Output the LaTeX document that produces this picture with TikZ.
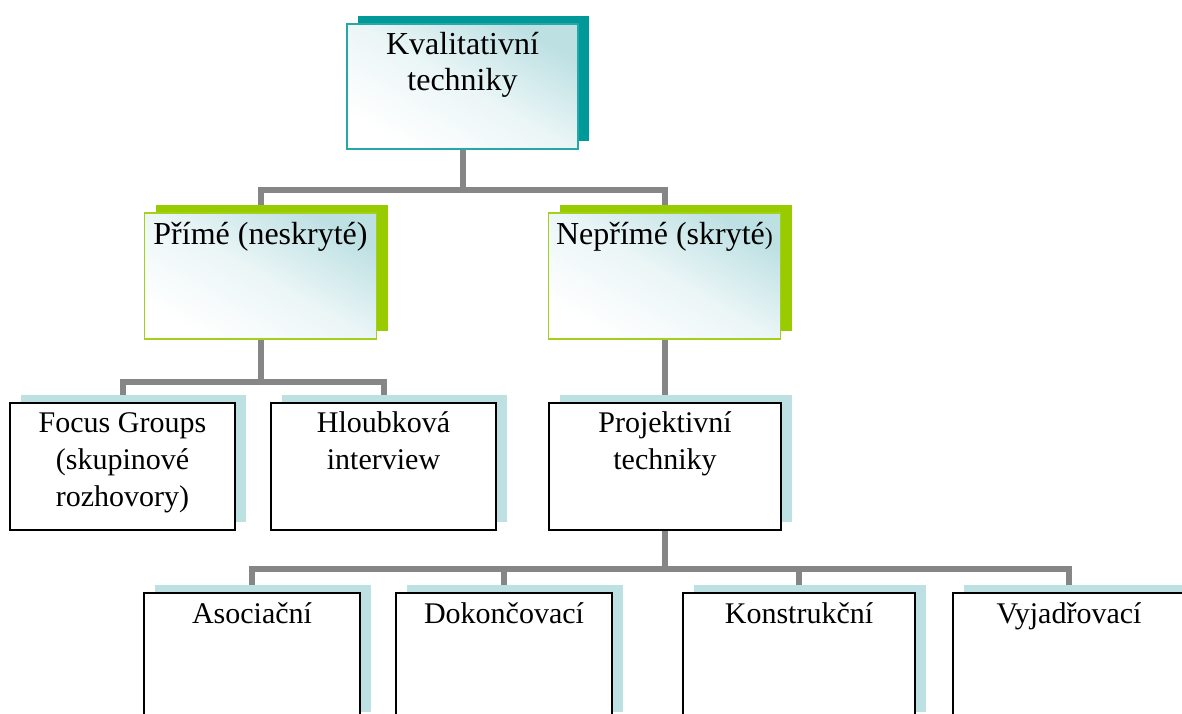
\documentclass[tikz,border=0pt]{standalone}
\usepackage{fontspec}
\setmainfont{Liberation Serif}
\usetikzlibrary{shadows,backgrounds}

\definecolor{tyrkys}{RGB}{0,153,153}
\definecolor{zelena}{RGB}{153,204,0}
\definecolor{svetla}{RGB}{189,224,227}
\definecolor{sedivka}{RGB}{134,134,134}

\begin{document}
\begin{tikzpicture}[x=0.5pt,y=-0.5pt,
	kasten/.style={rectangle,inner sep=0pt,line width=0.8pt,
		general shadow={fill=#1,shadow xshift=5.5pt,shadow yshift=4pt}},
	hlavni/.style={kasten=tyrkys,draw=tyrkys!85!white,
		minimum width=115.5pt,minimum height=62.5pt,
		top color=svetla,bottom color=white,middle color=svetla!30!white,
		shading angle=-30},
	vetev/.style={kasten=zelena,draw=zelena!90!white,
		minimum width=116pt,minimum height=63pt,
		top color=svetla,bottom color=white,middle color=svetla!30!white,
		shading angle=-30},
	list/.style={kasten=svetla,draw=black,fill=white,minimum height=63.5pt},
	popis/.style={anchor=base,align=center,inner sep=0pt,
		font=\fontsize{16}{18}\selectfont},
	popism/.style={popis,font=\fontsize{15}{18.5}\selectfont},
	spoj/.style={draw=sedivka,line width=3pt}]

	\useasboundingbox (0,0) rectangle (1182,713);
	\clip (0,0) rectangle (1182,713);

	% uroven 1 a 2 (base = posledni radek)
	\node[hlavni,label={[popis,yshift=-33.5pt]north:Kvalitativní\\techniky}]
		(kval) at (462.5,86.5) {};
	\node[vetev,label={[popis,yshift=-16pt]north:Přímé (neskryté)}]
		(prime) at (260.5,276) {};
	\node[vetev,label={[popis,yshift=-16pt]north:Nepřímé (skryté{\fontsize{12}{18}\selectfont )}}]
		(neprime) at (664.5,276) {};

	% uroven 3
	\node[list,minimum width=112.5pt,
		label={[popism,yshift=-52pt]north:Focus Groups\\(skupinové\\rozhovory)}]
		(focus) at (122.5,466.5) {};
	\node[list,minimum width=112.5pt,
		label={[popism,yshift=-33.5pt]north:Hloubková\\interview}]
		(hloub) at (383.5,466.5) {};
	\node[list,minimum width=116pt,
		label={[popism,yshift=-33.5pt]north:Projektivní\\techniky}]
		(proj) at (665,466.5) {};

	% uroven 4
	\node[list,minimum width=108pt,label={[popism,yshift=-15.5pt]north:Asociační}]
		(asoc) at (252,656.5) {};
	\node[list,minimum width=108pt,label={[popism,yshift=-15.5pt]north:Dokončovací}]
		(dokon) at (504,656.5) {};
	\node[list,minimum width=116pt,label={[popism,yshift=-15.5pt]north:Konstrukční}]
		(konstr) at (799,656.5) {};
	\node[list,minimum width=116pt,label={[popism,yshift=-15.5pt]north:Vyjadřovací}]
		(vyjadr) at (1069,656.5) {};

	\begin{scope}[on background layer]
		\draw[spoj] (kval.south) -- ++(0,40) -| (prime.north);
		\draw[spoj] (kval.south) -- ++(0,40) -| (neprime.north);
		\draw[spoj] (prime.south) -- ++(0,42) -| (focus.north);
		\draw[spoj] (prime.south) -- ++(0,42) -| (hloub.north);
		\draw[spoj] (neprime.south) -- (neprime.south |- proj.north);
		\foreach \k in {asoc,dokon,konstr,vyjadr}
			\draw[spoj] (proj.south) -- ++(0,38) -| (\k.north);
	\end{scope}
\end{tikzpicture}
\end{document}
